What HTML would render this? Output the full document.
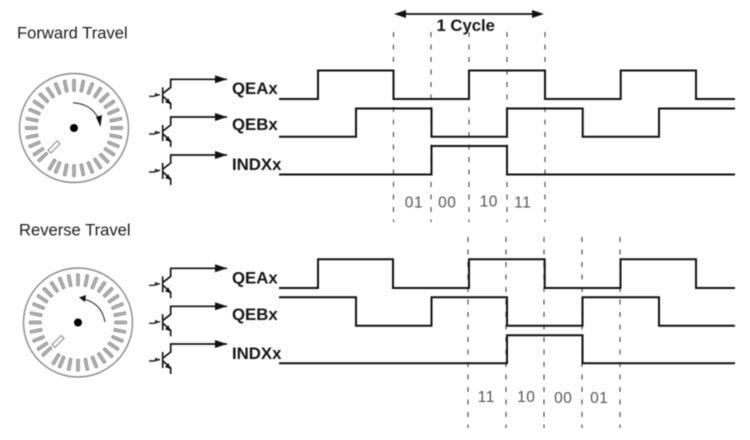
<!DOCTYPE html>
<html>
<head>
<meta charset="utf-8">
<style>
html,body{margin:0;padding:0;background:#fff}
svg{display:block;filter:blur(.4px)}
text{font-family:"Liberation Sans",sans-serif}
.b{font-weight:bold;font-size:16.8px;fill:#151515}
.t{font-size:16.6px;fill:#1c1c1c}
.n{font-size:15.5px;fill:#555;letter-spacing:.6px;text-anchor:middle}
.w{fill:none;stroke:#111;stroke-width:2}
.d{fill:none;stroke:#444;stroke-width:1.1;stroke-dasharray:5 7.5}
</style>
</head>
<body>
<svg width="750" height="440" viewBox="0 0 750 440" xmlns="http://www.w3.org/2000/svg">
<defs>
<rect id="s" x="-1.4" y="-48.7" width="2.8" height="12" rx=".6" fill="#b4b4b4" stroke="#707070" stroke-width=".6"/>
<g id="wheel">
<circle r="54.5" fill="#fff" stroke="#8a8a8a" stroke-width="1.4"/>
<use href="#s"/><use href="#s" transform="rotate(11.25)"/><use href="#s" transform="rotate(22.5)"/><use href="#s" transform="rotate(33.75)"/>
<use href="#s" transform="rotate(45)"/><use href="#s" transform="rotate(56.25)"/><use href="#s" transform="rotate(67.5)"/><use href="#s" transform="rotate(78.75)"/>
<use href="#s" transform="rotate(90)"/><use href="#s" transform="rotate(101.25)"/><use href="#s" transform="rotate(112.5)"/><use href="#s" transform="rotate(123.75)"/>
<use href="#s" transform="rotate(135)"/><use href="#s" transform="rotate(146.25)"/><use href="#s" transform="rotate(157.5)"/><use href="#s" transform="rotate(168.75)"/>
<use href="#s" transform="rotate(180)"/><use href="#s" transform="rotate(191.25)"/><use href="#s" transform="rotate(202.5)"/><use href="#s" transform="rotate(211)"/>
<use href="#s" transform="rotate(227)"/><use href="#s" transform="rotate(236.25)"/><use href="#s" transform="rotate(247.5)"/><use href="#s" transform="rotate(258.75)"/>
<use href="#s" transform="rotate(270)"/><use href="#s" transform="rotate(281.25)"/><use href="#s" transform="rotate(292.5)"/><use href="#s" transform="rotate(303.75)"/>
<use href="#s" transform="rotate(315)"/><use href="#s" transform="rotate(326.25)"/><use href="#s" transform="rotate(337.5)"/><use href="#s" transform="rotate(348.75)"/>
<circle r="4" fill="#000"/>
<rect x="-2" y="-6.500" width="4" height="13" fill="#fff" stroke="#666" stroke-width=".8" transform="translate(-20 19) rotate(45)"/>
</g>
<g id="tr">
<path d="M227 0H170.700V8L163 14" fill="none" stroke="#111" stroke-width="1.7"/>
<polygon points="215,-4 227,0 215,4" fill="#111"/>
<path d="M162.700 8V24" fill="none" stroke="#111" stroke-width="1.6"/>
<path d="M163 17L170.700 24V30" fill="none" stroke="#111" stroke-width="1.6"/>
<polygon points="170.500,25 165,23 168.500,19" fill="#111"/>
<path d="M149 17H154L156.500 15.500H160" fill="none" stroke="#222" stroke-width="1.4"/>
<polygon points="160,16 155,13.500 155,17.500" fill="#222"/>
</g>
</defs>

<text class="t" x="17" y="38.300">Forward Travel</text>
<text class="t" x="19" y="235.700">Reverse Travel</text>

<use href="#wheel" transform="translate(74 128)"/>
<path d="M73 102.700Q92 104 98.500 119" fill="none" stroke="#222" stroke-width="1"/>
<polygon points="96,117 102,115 100.500,127" fill="#111"/>

<use href="#wheel" transform="translate(78 322.500)"/>
<path d="M105 322Q102 304 84 299" fill="none" stroke="#222" stroke-width="1"/>
<polygon points="79,297.500 86,295 85,302" fill="#111"/>

<use href="#tr" transform="translate(0 79.300)"/>
<use href="#tr" transform="translate(0 117)"/>
<use href="#tr" transform="translate(0 155)"/>
<use href="#tr" transform="translate(0 268.300)"/>
<use href="#tr" transform="translate(0 306.300)"/>
<use href="#tr" transform="translate(0 344)"/>

<text class="b" x="232" y="94">QEAx</text>
<text class="b" x="232" y="130">QEBx</text>
<text class="b" x="232" y="170">INDXx</text>
<text class="b" x="232" y="283.500">QEAx</text>
<text class="b" x="232" y="320">QEBx</text>
<text class="b" x="232" y="359">INDXx</text>

<path class="d" d="M393.500 32V222M431 32V222M469 32V222M507 32V222M545 32V222"/>
<path class="d" d="M468 237V428M506 237V428M544 237V428M582 237V428M620 237V428"/>

<path class="w" d="M279 99H318V70.500H393.500V99H469V70.500H545V99H620.700V70.500H696V99H735"/>
<path class="w" d="M279 136.700H356V108.500H431.500V136.700H507V108.500H582.700V136.700H659V108.500H735"/>
<path class="w" d="M279 174.500H431.500V146H507V174.500H735"/>

<path class="w" d="M279 288H318V259.300H393V288H469V259.300H544.700V288H620.500V259.300H696V288H735"/>
<path class="w" d="M279 297.300H356V325.700H431.500V297.300H507V325.700H582.500V297.300H659V325.700H735"/>
<path class="w" d="M279 363.300H507V335.300H582.500V363.300H735"/>

<path d="M400 14H538" fill="none" stroke="#111" stroke-width="1.8"/>
<polygon points="394,14 406,10 406,18" fill="#111"/>
<polygon points="544,14 532,10 532,18" fill="#111"/>
<text class="b" x="436.500" y="31" style="font-size:16.700px">1 Cycle</text>

<text class="n" x="414" y="207.300">01</text>
<text class="n" x="447.300" y="207.300">00</text>
<text class="n" x="488.800" y="206.300">10</text>
<text class="n" x="522.800" y="207.300">11</text>
<text class="n" x="486.300" y="402">11</text>
<text class="n" x="526.300" y="402">10</text>
<text class="n" x="563.300" y="403">00</text>
<text class="n" x="599.300" y="403">01</text>
</svg>
</body>
</html>
